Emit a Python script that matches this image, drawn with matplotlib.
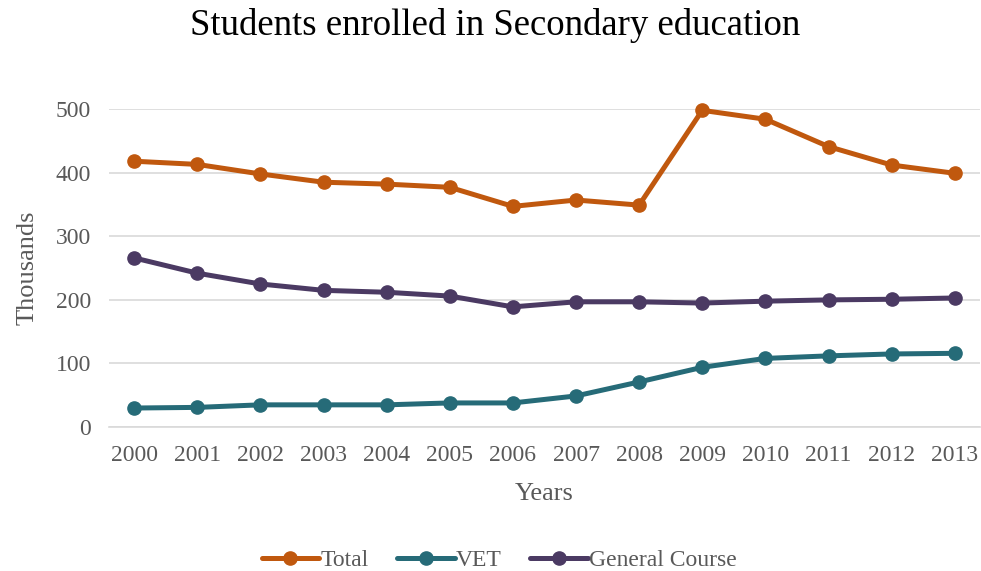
import matplotlib
matplotlib.use('Agg')
import matplotlib.pyplot as plt

years = ['2000', '2001', '2002', '2003', '2004', '2005', '2006',
         '2007', '2008', '2009', '2010', '2011', '2012', '2013']
total = [418, 413, 398, 385, 382, 377, 347, 357, 349, 498, 484, 441, 412, 399]
vet = [30, 31, 35, 35, 35, 38, 38, 49, 71, 94, 108, 112, 115, 116]
general = [266, 242, 225, 215, 212, 206, 189, 197, 197, 195, 198, 200, 201, 203]

plt.rcParams['font.family'] = ['Liberation Serif', 'DejaVu Serif']
grey = '#595959'

fig = plt.figure(figsize=(9.81, 5.71), dpi=100)
ax = fig.add_axes([0.111, 0.252, 0.888, 0.557])

x = list(range(len(years)))
series = [('Total', total, '#C0580E'),
          ('VET', vet, '#266B78'),
          ('General Course', general, '#4B3A63')]
for name, vals, col in series:
  ax.plot(x, vals, color=col, lw=3.6, marker='o', ms=9.5, label=name,
          clip_on=False, zorder=3, solid_capstyle='round')

ax.set_xlim(-0.4, 13.4)
ax.set_ylim(0, 500)
ax.set_yticks([0, 100, 200, 300, 400, 500])
ax.set_xticks(x)
ax.set_xticklabels(years)
ax.grid(axis='y', color='#d9d9d9', lw=1.2)
ax.set_axisbelow(True)
for s in ['top', 'right', 'left']:
  ax.spines[s].set_visible(False)
ax.spines['bottom'].set_color('#d9d9d9')
ax.spines['bottom'].set_linewidth(1.2)
ax.tick_params(axis='both', length=0, labelsize=17, colors=grey, pad=13)

ax.set_xlabel('Years', fontsize=19, color=grey, labelpad=12)
ax.set_ylabel('Thousands', fontsize=19, color=grey, labelpad=12)
fig.text(0.505, 0.956, 'Students enrolled in Secondary education', fontsize=26.5,
         ha='center', va='center')

fig.legend(loc='center', ncol=3, frameon=False, fontsize=17,
           bbox_to_anchor=(0.509, 0.019), handlelength=2.45, columnspacing=1.2,
           handletextpad=0.05, labelcolor=grey)

fig.savefig('out.png', dpi=100)
